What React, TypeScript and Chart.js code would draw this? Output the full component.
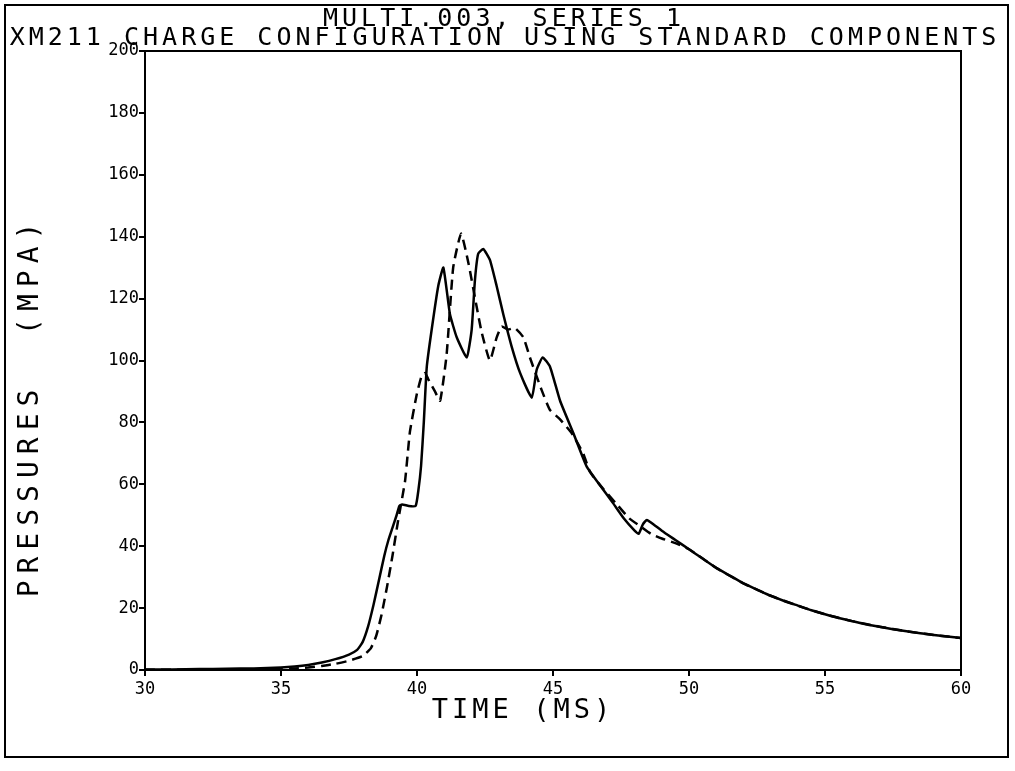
import React, { useEffect, useRef } from "react";
import { Chart, registerables } from "chart.js";

Chart.register(...registerables);

const titleLines = [
  "MULTI.003, SERIES 1",
  "XM211 CHARGE CONFIGURATION USING STANDARD COMPONENTS",
];
const xAxisTitle = "TIME (MS)";
const yAxisTitle = "PRESSURES  (MPA)";

const xMin = 30;
const xMax = 60;
const xStep = 5;
const yMin = 0;
const yMax = 200;
const yStep = 20;

const solidTime = [
  30, 31, 32, 33, 34, 35, 35.5, 36, 36.5, 37, 37.5, 37.8, 38, 38.2, 38.4, 38.6,
  38.8, 38.95, 39.1, 39.25, 39.35, 39.45, 39.7, 39.95, 40.05, 40.15, 40.25,
  40.36, 40.54, 40.78, 40.97, 41.21, 41.46, 41.83, 42.01, 42.13, 42.25, 42.44,
  42.68, 42.93, 43.17, 43.48, 43.79, 44.22, 44.4, 44.62, 44.89, 45.26, 45.75,
  46.24, 46.7, 47.2, 47.6, 48.0, 48.15, 48.3, 48.45, 48.7, 49.0, 49.5, 50.0,
  50.5, 51.0, 51.5, 52.0, 52.5, 53.0, 53.5, 54.0, 54.5, 55.0, 55.5, 56.0, 56.5,
  57.0, 57.5, 58.0, 58.5, 59.0, 59.5, 60.0,
];
const solidPressure = [
  0.2, 0.2, 0.3, 0.4, 0.5, 0.8, 1.1, 1.6, 2.4, 3.5, 5.0, 6.5, 9, 14, 21, 29,
  37, 42, 46, 50, 53, 53.5, 53, 53, 58, 66, 80,
  98, 110, 124, 130, 115, 107.5, 101, 110, 126, 134.5, 136,
  132.5, 124, 115, 104.5, 96, 88, 97, 101, 98, 87, 76.5,
  65.7, 60, 54, 49, 45, 44, 47, 48.5, 47, 45, 42, 39,
  36, 33, 30.5, 28, 26, 24, 22.3, 20.8, 19.3, 18, 16.8, 15.8, 14.8,
  14, 13.2, 12.5, 11.9, 11.3, 10.8, 10.3,
];

const dashedTime = [
  30, 32, 34, 35, 35.5, 36, 36.5, 37, 37.5, 38, 38.3, 38.5, 38.7, 38.9, 39.1,
  39.3, 39.56, 39.74, 39.99, 40.17, 40.3, 40.41, 40.66, 40.85, 41.09, 41.33,
  41.62, 41.89, 42.19, 42.38, 42.68, 42.93, 43.11, 43.35, 43.6, 43.91, 44.15,
  44.58, 44.89, 45.26, 45.69, 46.11, 46.36, 46.8, 47.3, 47.8, 48.2, 48.6, 49.0,
  49.5, 50.0, 51.0, 52.0, 53.0, 54.0, 55.0, 56.0, 57.0, 58.0, 59.0, 60.0,
];
const dashedPressure = [
  0.1, 0.1, 0.2, 0.3, 0.5, 0.8, 1.3, 2, 3, 4.5, 7, 11, 18, 27, 37,
  48, 61, 77, 89, 95, 96, 94, 90, 87, 102, 130,
  141, 131.5, 117.5, 109, 100, 107.5, 111, 110, 110.5, 107.5, 101,
  90.5, 84, 81, 76.5, 70, 64, 59, 54, 49, 46.5, 44, 42.5,
  41, 39, 33, 28, 24, 20.8, 18, 15.8, 14, 12.5, 11.3, 10.3,
];

const FONT = '"DejaVu Sans Mono", "Liberation Mono", monospace';

function drawSpaced(
  ctx: CanvasRenderingContext2D,
  text: string,
  x: number,
  y: number,
  size: number,
  spacing: number,
  rotate = 0
) {
  ctx.save();
  ctx.translate(x, y);
  if (rotate) ctx.rotate(rotate);
  ctx.font = `${size}px ${FONT}`;
  (ctx as any).letterSpacing = `${spacing}px`;
  ctx.textAlign = "center";
  ctx.textBaseline = "middle";
  ctx.fillStyle = "#000";
  ctx.fillText(text, spacing / 2, 0);
  ctx.restore();
}

const plotterPlugin = {
  id: "plotterFrame",
  beforeDatasetsDraw(chart: any) {
    const { ctx, chartArea } = chart;
    const { left, right, top, bottom } = chartArea;
    ctx.save();
    ctx.strokeStyle = "#000";
    ctx.lineWidth = 2;
    ctx.strokeRect(left, top, right - left, bottom - top);
    ctx.restore();
  },
  afterDraw(chart: any) {
    const ctx: CanvasRenderingContext2D = chart.ctx;
    ctx.save();
    ctx.strokeStyle = "#000";
    ctx.lineWidth = 2;
    ctx.strokeRect(5, 5, 1003, 752);
    ctx.restore();
    drawSpaced(ctx, titleLines[0], 502, 19, 25, 4);
    drawSpaced(ctx, titleLines[1], 503, 38, 25, 4);
    drawSpaced(ctx, yAxisTitle, 31, 410, 28, 7, -Math.PI / 2);
    drawSpaced(ctx, xAxisTitle, 521, 711, 27, 4);
  },
};

export default function App() {
  const canvasRef = useRef<HTMLCanvasElement | null>(null);

  useEffect(() => {
    const canvas = canvasRef.current;
    if (!canvas) return;
    const chart = new Chart(canvas, {
      type: "line",
      data: {
        datasets: [
          {
            label: "dashed",
            data: dashedTime.map((t, i) => ({ x: t, y: dashedPressure[i] })),
            borderColor: "#000",
            borderWidth: 2.5,
            borderDash: [10, 6],
            pointRadius: 0,
            tension: 0.15,
            fill: false,
          },
          {
            label: "solid",
            data: solidTime.map((t, i) => ({ x: t, y: solidPressure[i] })),
            borderColor: "#000",
            borderWidth: 2.5,
            pointRadius: 0,
            tension: 0.15,
            fill: false,
          },
        ],
      },
      options: {
        animation: false,
        responsive: false,
        devicePixelRatio: 1,
        layout: { padding: { left: 0, right: 54, top: 51, bottom: 0 } },
        plugins: {
          legend: { display: false },
          title: { display: false },
          tooltip: { enabled: false },
        },
        scales: {
          x: {
            type: "linear",
            min: xMin,
            max: xMax,
            afterFit: (scale: any) => {
              scale.height = 101;
            },
            ticks: {
              stepSize: xStep,
              color: "#000",
              font: { family: FONT, size: 17 },
              padding: 3,
              maxRotation: 0,
            },
            grid: {
              drawOnChartArea: false,
              drawTicks: true,
              tickLength: 6,
              color: "#000",
              lineWidth: 2,
            },
            border: { display: true, color: "#000", width: 2 },
          },
          y: {
            type: "linear",
            min: yMin,
            max: yMax,
            afterFit: (scale: any) => {
              scale.width = 145;
            },
            ticks: {
              stepSize: yStep,
              color: "#000",
              font: { family: FONT, size: 17 },
              padding: 0,
            },
            grid: {
              drawOnChartArea: false,
              drawTicks: true,
              tickLength: 6,
              color: "#000",
              lineWidth: 2,
            },
            border: { display: true, color: "#000", width: 2 },
          },
        },
      },
      plugins: [plotterPlugin],
    });
    return () => chart.destroy();
  }, []);

  return (
    <div
      style={{
        position: "absolute",
        left: 0,
        top: 0,
        width: 1015,
        height: 771,
        background: "#fff",
      }}
    >
      <canvas ref={canvasRef} width={1015} height={771} />
    </div>
  );
}
